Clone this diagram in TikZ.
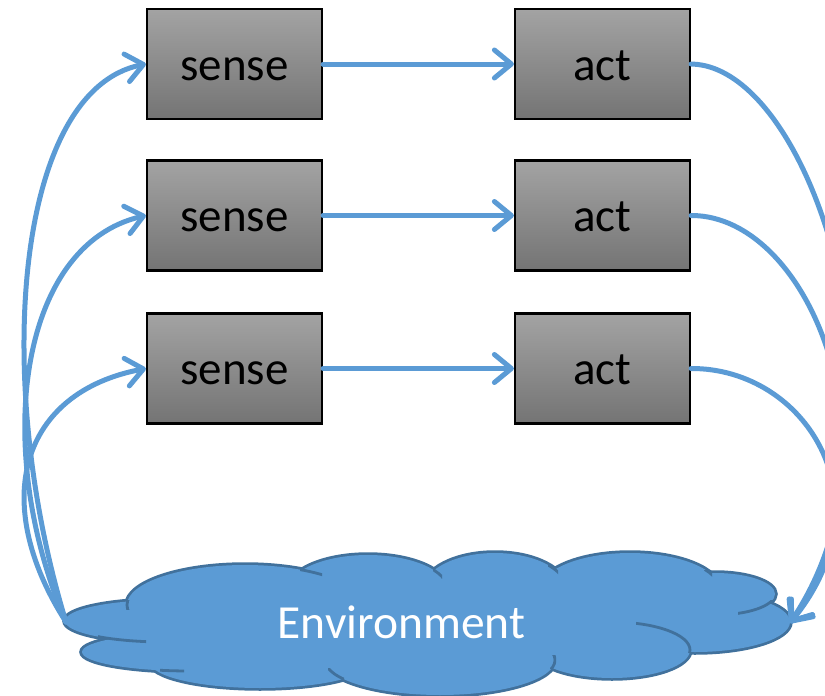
\documentclass[tikz,border=0pt]{standalone}
\usepackage{fontspec}
\setmainfont{Carlito}
\usetikzlibrary{arrows.meta}
\definecolor{flow}{HTML}{5B9BD5}
\definecolor{cloudfill}{HTML}{5B9BD5}
\definecolor{cloudedge}{HTML}{41719C}
\definecolor{boxtop}{HTML}{A3A3A3}
\definecolor{boxbot}{HTML}{747474}

\begin{document}
\begin{tikzpicture}[x=1pt,y=-1pt,
  block/.style={draw=black, line width=2.2pt, top color=boxtop, bottom color=boxbot,
    minimum width=175pt, minimum height=110pt, inner sep=0pt,
    font=\fontsize{47}{56}\selectfont, text height=40pt, text depth=8pt},
  flowline/.style={draw=flow, line width=5pt, line cap=round,
    -{Straight Barb[length=17pt,width=28pt,round]}},
  lobeedge/.style={draw=cloudedge, line width=5.5pt},
  lobefill/.style={fill=cloudfill},
  innerarc/.style={draw=cloudedge, line width=2.8pt, line cap=round}]

\useasboundingbox (0,0) rectangle (825,696);
\clip (0,0) rectangle (825,696);

% ---- cloud: union of lobes (outline first, then fill over it)
\def\lobes{165/621/100/21, 190/652/108/19, 245/605/118/40, 368/590/80/35,
  495/590/72/37, 630/590/90/37, 715/594/60/21, 695/622/95/30,
  612/650/78/28, 260/662/110/26, 440/660/115/35}
\foreach \cx/\cy/\rx/\ry in \lobes
  \path[lobeedge] (\cx,\cy) ellipse [x radius=\rx pt, y radius=\ry pt];
\foreach \cx/\cy/\rx/\ry in \lobes
  \path[lobefill] (\cx,\cy) ellipse [x radius=\rx pt, y radius=\ry pt];
\path[lobefill] (430,620) ellipse [x radius=300pt, y radius=45pt];

% ---- inner arcs of the cloud
\begin{scope}\clip (98,628) rectangle (146,650);
  \path[innerarc] (165,621) ellipse [x radius=100pt, y radius=21pt];\end{scope}
\begin{scope}\clip (124,600) rectangle (140,609);
  \path[innerarc] (245,605) ellipse [x radius=118pt, y radius=40pt];\end{scope}
\begin{scope}\clip (300,566) rectangle (322,580);
  \path[innerarc] (245,605) ellipse [x radius=118pt, y radius=40pt];\end{scope}
\begin{scope}\clip (433,565) rectangle (442,578);
  \path[innerarc] (368,590) ellipse [x radius=80pt, y radius=35pt];\end{scope}
\begin{scope}\clip (548,565) rectangle (558,580);
  \path[innerarc] (495,590) ellipse [x radius=72pt, y radius=37pt];\end{scope}
\begin{scope}\clip (704,570) rectangle (712,580);
  \path[innerarc] (630,590) ellipse [x radius=90pt, y radius=37pt];\end{scope}
\begin{scope}\clip (738,600) rectangle (776,620);
  \path[innerarc] (715,594) ellipse [x radius=60pt, y radius=21pt];\end{scope}
\begin{scope}\clip (636,618) rectangle (692,652);
  \path[innerarc] (612,650) ellipse [x radius=78pt, y radius=28pt];\end{scope}
\begin{scope}\clip (550,655) rectangle (556,668);
  \path[innerarc] (440,660) ellipse [x radius=115pt, y radius=35pt];\end{scope}
\begin{scope}\clip (328,668) rectangle (344,682);
  \path[innerarc] (440,660) ellipse [x radius=115pt, y radius=35pt];\end{scope}
\begin{scope}\clip (160,662) rectangle (184,675);
  \path[innerarc] (190,652) ellipse [x radius=108pt, y radius=19pt];\end{scope}

\node[text=white, font=\fontsize{47.5}{56}\selectfont, anchor=base, inner sep=0pt]
  (env) at (401.5,638) {Environment};
\coordinate (envL) at (66,622);
\coordinate (envR) at (790,623);

% ---- sense / act blocks
\node[block] (s1) at (234.5,64) {sense};
\node[block] (s2) at (234.5,215.5) {sense};
\node[block] (s3) at (234.5,368.5) {sense};
\node[block] (a1) at (602.5,64) {act};
\node[block] (a2) at (602.5,215.5) {act};
\node[block] (a3) at (602.5,368.5) {act};

% ---- connectors
\draw[flowline] (s1.east) -- (a1.west);
\draw[flowline] (s2.east) -- (a2.west);
\draw[flowline] (s3.east) -- (a3.west);

\draw[flowline] (envL) .. controls (-8,380) and (15,90) .. (s1.west);
\draw[flowline] (envL) .. controls (-8,450) and (18,245) .. (s2.west);
\draw[flowline] (envL) .. controls (-12,500) and (22,392) .. (s3.west);

\draw[flowline] (a1.east) .. controls (815,66) and (925,430) .. (envR);
\draw[flowline] (a2.east) .. controls (810,215) and (905,450) .. (envR);
\draw[flowline] (a3.east) .. controls (805,368) and (890,500) .. (envR);
\end{tikzpicture}
\end{document}
